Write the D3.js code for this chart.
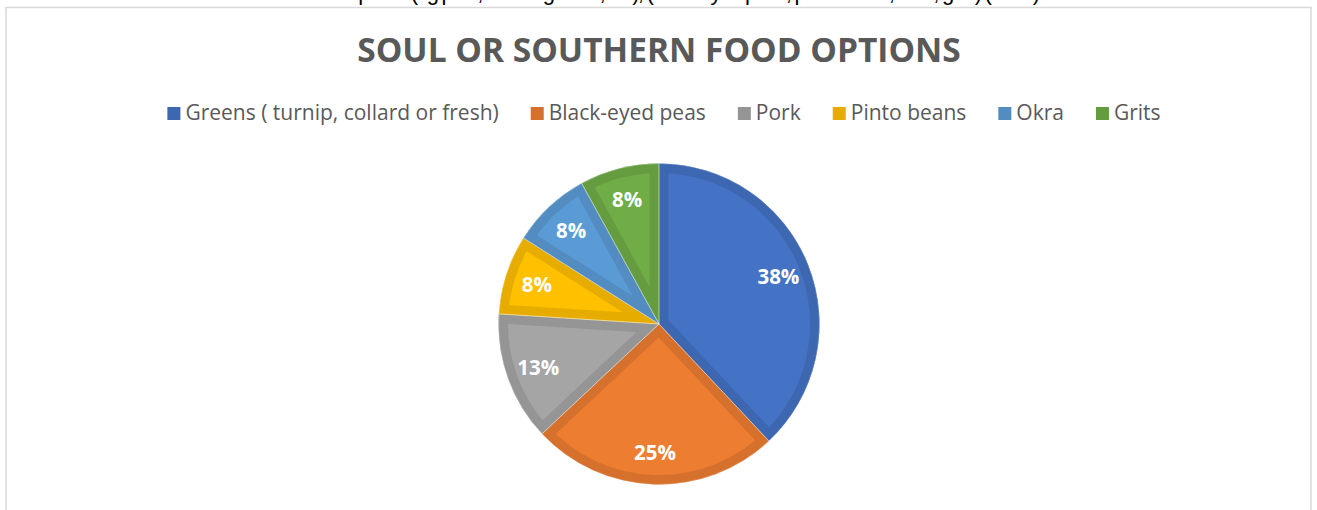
<!DOCTYPE html>
<html>
<head>
<meta charset="utf-8">
<script src="https://cdn.jsdelivr.net/npm/d3@7/dist/d3.min.js"></script>
<style>
  html, body { margin: 0; padding: 0; background: #ffffff; }
  svg { display: block; }
</style>
</head>
<body>
<svg id="chart" width="1317" height="510"></svg>
<script>
// Survey answers: soul or southern food options (share of responses, %)
const categories = [
  "Greens ( turnip, collard or fresh)",
  "Black-eyed peas",
  "Pork",
  "Pinto beans",
  "Okra",
  "Grits"
];
const shares = [38, 25, 13, 8, 8, 8];
const chartTitle = "SOUL OR SOUTHERN FOOD OPTIONS";
const captionAbove = "Soul or southern food options (eg pork, collard greens, etc), (black-eyed peas, pinto beans, okra, grits) (n=24)";

const palette = ["#4472C4", "#ED7D31", "#A5A5A5", "#FFC000", "#5B9BD5", "#70AD47"];
const edgeTone = c => { const r = d3.rgb(c); return d3.rgb(r.r * 0.9, r.g * 0.9, r.b * 0.9).formatHex(); };

const W = 1317, H = 510;
const svg = d3.select("#chart");
const font = "'Open Sans', 'Noto Sans', sans-serif";

// Document caption running above the chart frame (only its lower edge is in view)
svg.append("text")
  .attr("x", 170).attr("y", 0)
  .attr("font-family", "'Liberation Sans', sans-serif")
  .attr("font-size", 22)
  .attr("textLength", 870)
  .attr("lengthAdjust", "spacing")
  .attr("fill", "#000")
  .text(captionAbove);

// Chart frame
svg.append("rect")
  .attr("x", 6).attr("y", 7.5)
  .attr("width", 1305).attr("height", 520)
  .attr("fill", "#fff")
  .attr("stroke", "#d9d9d9").attr("stroke-width", 1.5);

// Title
svg.append("text")
  .attr("x", 659).attr("y", 62)
  .attr("text-anchor", "middle")
  .attr("font-family", font)
  .attr("font-weight", 700)
  .attr("font-size", 33.5)
  .attr("fill", "#595959")
  .text(chartTitle);

// Legend
const color = d3.scaleOrdinal().domain(categories).range(palette);
const legend = svg.append("g");
const legendFont = 21, sw = 13, textGap = 5, itemGap = 32;
let lx = 0;
categories.forEach(cat => {
  const g = legend.append("g").attr("transform", `translate(${lx},0)`);
  g.append("rect")
    .attr("x", 0).attr("y", -13)
    .attr("width", sw).attr("height", sw)
    .attr("fill", edgeTone(color(cat)));
  const t = g.append("text")
    .attr("x", sw + textGap).attr("y", 0)
    .attr("font-family", font)
    .attr("font-size", legendFont)
    .attr("fill", "#595959")
    .text(cat);
  lx += sw + textGap + t.node().getComputedTextLength() + itemGap;
});
const legendWidth = lx - itemGap;
legend.attr("transform", `translate(${664 - legendWidth / 2},120)`);

// Pie
const cx = 659, cy = 324, R = 160.5, band = 9.5;
const pie = d3.pie().sort(null).value(d => d.value);
const arc = d3.arc().innerRadius(0).outerRadius(R);
const data = pie(categories.map((c, i) => ({ cat: c, value: shares[i] })));

const pieG = svg.append("g").attr("transform", `translate(${cx},${cy})`);
const defs = svg.append("defs");

data.forEach((d, i) => {
  const id = "slice-clip-" + i;
  defs.append("clipPath").attr("id", id)
    .append("path").attr("d", arc(d));
  const g = pieG.append("g");
  g.append("path")
    .attr("d", arc(d))
    .attr("fill", color(d.data.cat));
  // darker inner rim along every edge of the slice
  g.append("path")
    .attr("d", arc(d))
    .attr("fill", "none")
    .attr("clip-path", `url(#${id})`)
    .attr("stroke", edgeTone(color(d.data.cat)))
    .attr("stroke-width", band * 2)
    .attr("stroke-linejoin", "miter");
});
// Thin separators between slices
pieG.selectAll("path.sep")
  .data(data)
  .enter().append("path")
  .attr("class", "sep")
  .attr("d", arc)
  .attr("fill", "none")
  .attr("stroke", "#ffffff")
  .attr("stroke-opacity", 0.5)
  .attr("stroke-width", 0.6);

// Percentage labels
const labelArc = d3.arc().innerRadius(R * 0.8).outerRadius(R * 0.8);
pieG.selectAll("text.pct")
  .data(data)
  .enter().append("text")
  .attr("class", "pct")
  .attr("transform", d => `translate(${labelArc.centroid(d)})`)
  .attr("text-anchor", "middle")
  .attr("dy", "0.35em")
  .attr("font-family", font)
  .attr("font-weight", 700)
  .attr("font-size", 20.5)
  .attr("fill", "#ffffff")
  .text(d => d.data.value + "%");
</script>
</body>
</html>
